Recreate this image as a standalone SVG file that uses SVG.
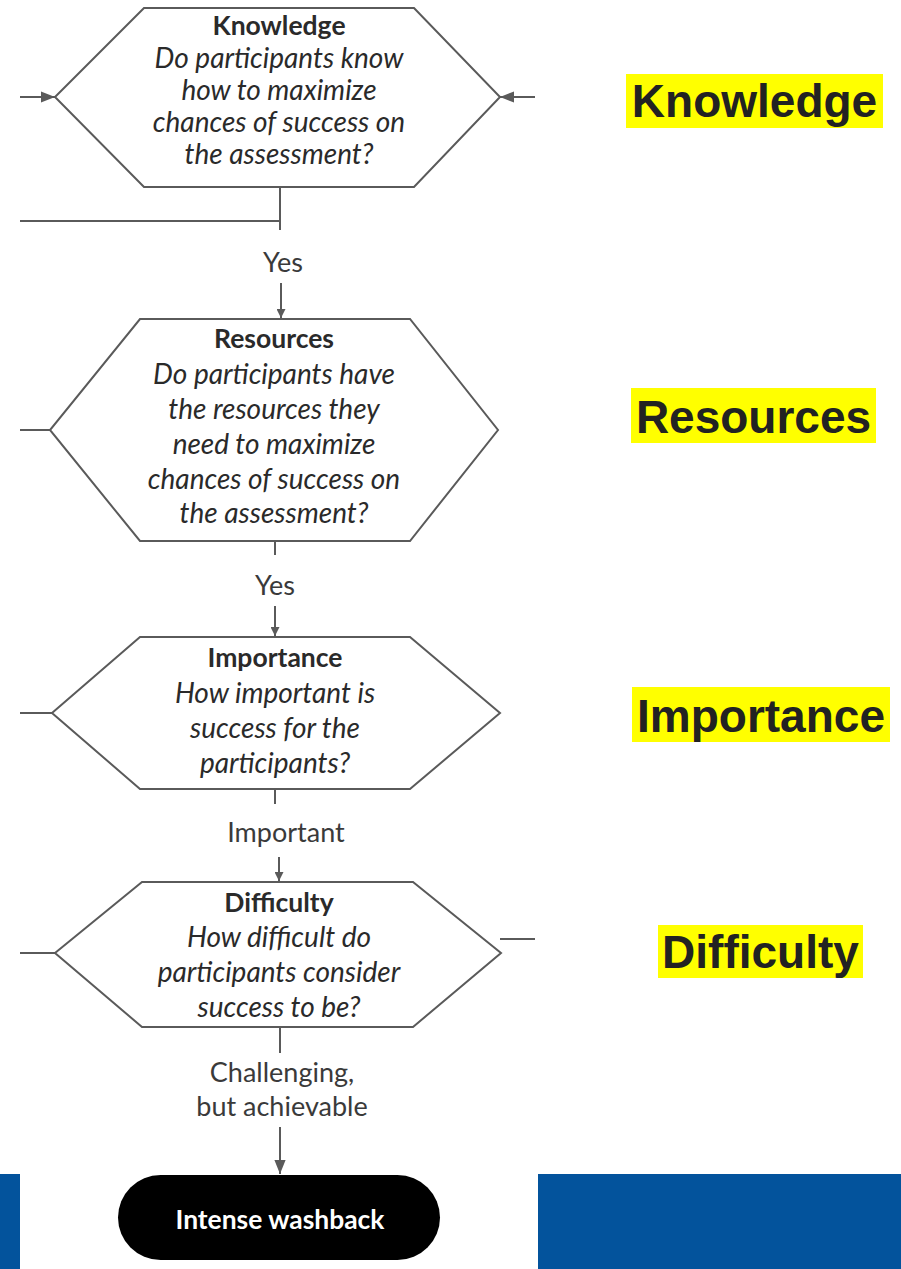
<svg xmlns="http://www.w3.org/2000/svg" width="901" height="1269" viewBox="0 0 901 1269">
<style>
.hex{fill:#fff;stroke:#5a5a5a;stroke-width:2}
.ln{fill:none;stroke:#5a5a5a;stroke-width:2}
.t{font-family:Lato,"Open Sans",sans-serif;font-size:28px;fill:#2a2a2a;text-anchor:middle}
.b{font-weight:bold;font-size:26.5px}
.i{font-style:italic}
.lab{font-family:Lato,"Open Sans",sans-serif;font-size:27px;fill:#3a3a3a;text-anchor:middle}
.hl{fill:#ffff00}
.side{font-family:"Liberation Sans",Arial,sans-serif;font-weight:bold;font-size:46px;fill:#222;text-anchor:middle}
.blue{fill:#03539c}
</style>
<defs>
<marker id="ah" viewBox="0 0 10 10" refX="10" refY="5" markerWidth="9" markerHeight="9" markerUnits="userSpaceOnUse" orient="auto"><path d="M0,0 L10,5 L0,10 z" fill="#5a5a5a"/></marker>
<marker id="ah2" viewBox="0 0 10 10" refX="10" refY="5" markerWidth="14" markerHeight="14" markerUnits="userSpaceOnUse" orient="auto"><path d="M0,1 L10,5 L0,9 z" fill="#5a5a5a"/></marker>
</defs>
<rect class="blue" x="0" y="1174" width="20" height="95"/>
<rect class="blue" x="538" y="1174" width="363" height="95"/>
<g id="connectors">
<line class="ln" x1="20" y1="97" x2="55" y2="97" marker-end="url(#ah2)"/>
<line class="ln" x1="535" y1="97" x2="500" y2="97" marker-end="url(#ah2)"/>
<polyline class="ln" points="280,187 280,230"/>
<line class="ln" x1="20" y1="221" x2="280" y2="221"/>
<line class="ln" x1="281" y1="283" x2="281" y2="318" marker-end="url(#ah)"/>
<line class="ln" x1="20" y1="430" x2="50" y2="430"/>
<line class="ln" x1="275" y1="541" x2="275" y2="555"/>
<line class="ln" x1="275" y1="606" x2="275" y2="636" marker-end="url(#ah)"/>
<line class="ln" x1="20" y1="713" x2="52" y2="713"/>
<line class="ln" x1="275" y1="789" x2="275" y2="804"/>
<line class="ln" x1="279" y1="857" x2="279" y2="881" marker-end="url(#ah)"/>
<line class="ln" x1="20" y1="953" x2="55" y2="953"/>
<line class="ln" x1="500" y1="939" x2="535" y2="939"/>
<line class="ln" x1="280" y1="1027" x2="280" y2="1053"/>
<line class="ln" x1="280" y1="1127" x2="280" y2="1174" marker-end="url(#ah2)"/>
<text class="lab" x="283" y="272">Yes</text>
<text class="lab" x="275" y="595">Yes</text>
<text class="lab" x="286" y="842">Important</text>
<text class="lab" x="282" y="1082">Challenging,</text>
<text class="lab" x="282" y="1116">but achievable</text>
</g>
<g id="knowledge">
<polygon class="hex" points="144,8 414,8 500,97 414,187 144,187 55,97"/>
<text class="t b" x="279" y="35">Knowledge</text>
<text class="t i" x="279" y="68">Do participants know</text>
<text class="t i" x="279" y="100">how to maximize</text>
<text class="t i" x="279" y="132">chances of success on</text>
<text class="t i" x="279" y="164">the assessment?</text>
</g>
<g id="resources">
<polygon class="hex" points="140,319 410,319 498,430 410,541 140,541 50,430"/>
<text class="t b" x="274" y="348">Resources</text>
<text class="t i" x="274" y="384">Do participants have</text>
<text class="t i" x="274" y="419">the resources they</text>
<text class="t i" x="274" y="454">need to maximize</text>
<text class="t i" x="274" y="489">chances of success on</text>
<text class="t i" x="274" y="523">the assessment?</text>
</g>
<g id="importance">
<polygon class="hex" points="140,637 410,637 500,713 410,789 140,789 52,713"/>
<text class="t b" x="275" y="667">Importance</text>
<text class="t i" x="275" y="703">How important is</text>
<text class="t i" x="275" y="738">success for the</text>
<text class="t i" x="275" y="773">participants?</text>
</g>
<g id="difficulty">
<polygon class="hex" points="142,882 413,882 501,953 413,1027 142,1027 55,953"/>
<text class="t b" x="279" y="912">Difficulty</text>
<text class="t i" x="279" y="947">How difficult do</text>
<text class="t i" x="279" y="982">participants consider</text>
<text class="t i" x="279" y="1017">success to be?</text>
</g>
<g id="intense">
<rect x="118" y="1175" width="322" height="85" rx="42.5" fill="#000"/>
<text x="280" y="1229" font-family="Lato,'Open Sans',sans-serif" font-weight="bold" font-size="26" fill="#fff" text-anchor="middle" textLength="209" lengthAdjust="spacingAndGlyphs">Intense washback</text>
</g>
<g id="labels">
<rect class="hl" x="626" y="74" width="257" height="54"/>
<text class="side" x="754.5" y="117">Knowledge</text>
<rect class="hl" x="631" y="388" width="245" height="55"/>
<text class="side" x="753.5" y="433">Resources</text>
<rect class="hl" x="632" y="687" width="258" height="55"/>
<text class="side" x="761" y="732">Importance</text>
<rect class="hl" x="658" y="925" width="205" height="53"/>
<text class="side" x="760.5" y="968">Difficulty</text>
</g>
</svg>
